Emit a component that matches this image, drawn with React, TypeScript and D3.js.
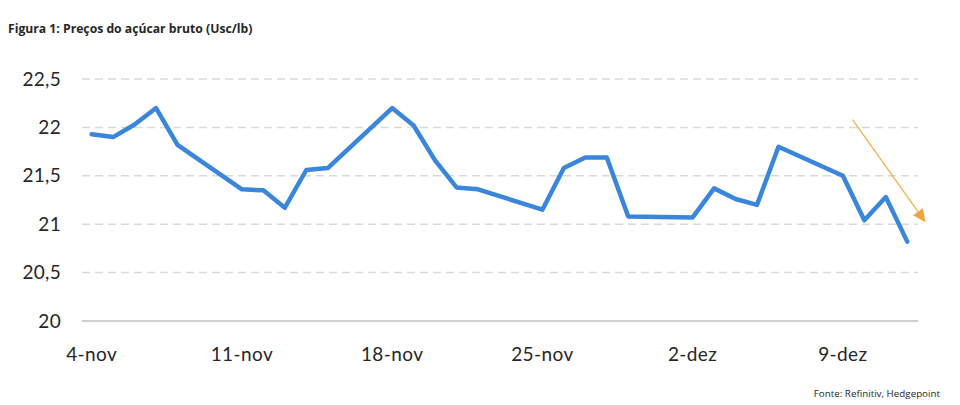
import React from "react";
import * as d3 from "d3";

const dates: string[] = [
  "2024-11-04", "2024-11-05", "2024-11-06", "2024-11-07", "2024-11-08",
  "2024-11-11", "2024-11-12", "2024-11-13", "2024-11-14", "2024-11-15",
  "2024-11-18", "2024-11-19", "2024-11-20", "2024-11-21", "2024-11-22",
  "2024-11-25", "2024-11-26", "2024-11-27", "2024-11-28", "2024-11-29",
  "2024-12-02", "2024-12-03", "2024-12-04", "2024-12-05", "2024-12-06",
  "2024-12-09", "2024-12-10", "2024-12-11", "2024-12-12",
];
const prices: number[] = [
  21.93, 21.90, 22.03, 22.20, 21.82,
  21.36, 21.35, 21.17, 21.56, 21.58,
  22.20, 22.02, 21.66, 21.38, 21.36,
  21.15, 21.58, 21.69, 21.69, 21.08,
  21.07, 21.37, 21.26, 21.20, 21.80,
  21.50, 21.04, 21.28, 20.82,
];
const yTicks: number[] = [20, 20.5, 21, 21.5, 22, 22.5];
const xTickDates: string[] = ["2024-11-04", "2024-11-11", "2024-11-18", "2024-11-25", "2024-12-02", "2024-12-09"];
const xTickLabels: string[] = ["4-nov", "11-nov", "18-nov", "25-nov", "2-dez", "9-dez"];
const title = "Figura 1: Preços do açúcar bruto (Usc/lb)";
const source = "Fonte: Refinitiv, Hedgepoint";

const parse = d3.utcParse("%Y-%m-%d");
const DAY = 86400000;

export default function App() {
  const W = 960, H = 405;
  const first = parse(dates[0])!;
  const last = parse(dates[dates.length - 1])!;
  const x = d3.scaleUtc()
    .domain([new Date(+first - DAY * 0.45), new Date(+last + DAY * 0.5)])
    .range([82, 918]);
  const y = d3.scaleLinear().domain([20, 22.5]).range([321, 79]);
  const data = dates.map((d, i) => ({ d: parse(d)!, v: prices[i] }));
  const line = d3.line<{ d: Date; v: number }>().x((p) => x(p.d)).y((p) => y(p.v));

  // arrow: trend annotation expressed in data space
  const arrowStart = { d: new Date(+parse("2024-12-09")! + DAY * 0.45), v: 22.08 };
  const arrowEnd = { d: new Date(+parse("2024-12-12")! + DAY * 0.85), v: 21.02 };
  const ax1 = x(arrowStart.d), ay1 = y(arrowStart.v);
  const ax2 = x(arrowEnd.d), ay2 = y(arrowEnd.v);
  const ang = Math.atan2(ay2 - ay1, ax2 - ax1);
  const headLen = 13, headW = 6;
  const bx = ax2 - headLen * Math.cos(ang), by = ay2 - headLen * Math.sin(ang);
  const px = -Math.sin(ang) * headW, py = Math.cos(ang) * headW;

  return (
    <svg width={W} height={H} style={{ position: "absolute", left: 0, top: 0, background: "#fff" }}>
      <text x={8} y={33} fontFamily="'Open Sans', sans-serif" fontWeight={700} fontSize={12.2} fill="#262626">
        {title}
      </text>
      {yTicks.map((t) =>
        t === 20 ? null : (
          <line key={t} x1={82} x2={918} y1={y(t)} y2={y(t)} stroke="#d9d9d9" strokeWidth={1.5} strokeDasharray="8,5" />
        )
      )}
      <line x1={82} x2={918} y1={y(20)} y2={y(20)} stroke="#bfbfbf" strokeWidth={1.5} />
      {yTicks.map((t) => (
        <text key={t} x={61} y={y(t)} dy="0.35em" textAnchor="end" fontFamily="Lato, 'Open Sans', sans-serif" fontSize={19} fill="#262626" letterSpacing={0.3}>
          {String(t).replace(".", ",")}
        </text>
      ))}
      {xTickDates.map((d, i) => (
        <text key={d} x={x(parse(d)!)} y={361} textAnchor="middle" fontFamily="Lato, 'Open Sans', sans-serif" fontSize={19} fill="#262626" letterSpacing={0.4}>
          {xTickLabels[i]}
        </text>
      ))}
      <path d={line(data)!} fill="none" stroke="#3a86dd" strokeWidth={4.5} strokeLinejoin="round" strokeLinecap="round" />
      <line x1={ax1} y1={ay1} x2={bx} y2={by} stroke="#f5b04c" strokeWidth={1.3} />
      <polygon points={`${ax2},${ay2} ${bx + px},${by + py} ${bx - px},${by - py}`} fill="#f0a53c" />
      <text x={940} y={397} textAnchor="end" fontFamily="'Open Sans', sans-serif" fontSize={9.8} fill="#262626">
        {source}
      </text>
    </svg>
  );
}
